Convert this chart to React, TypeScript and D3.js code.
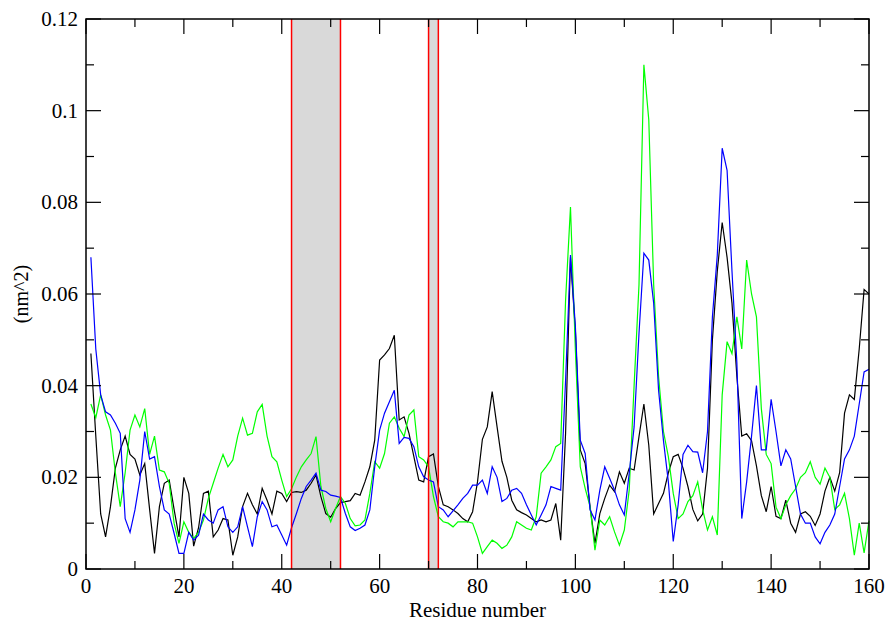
import React from "react";
import * as d3 from "d3";

const residues: number[] = Array.from({ length: 160 }, (_, i) => i + 1);

const blackSeries: number[] = [
  0.047, 0.029, 0.012, 0.007, 0.0136, 0.022, 0.026, 0.029, 0.025, 0.024,
  0.0205, 0.023, 0.013, 0.0034, 0.0136, 0.0187, 0.0194, 0.013, 0.007, 0.02,
  0.0165, 0.005, 0.009, 0.0165, 0.017, 0.007, 0.0085, 0.011, 0.0107, 0.003,
  0.007, 0.0136, 0.0165, 0.014, 0.012, 0.0176, 0.015, 0.012, 0.017, 0.0165,
  0.0147, 0.0167, 0.0169, 0.0167, 0.0172, 0.0187, 0.0205, 0.0158, 0.0121, 0.0113,
  0.0132, 0.0145, 0.0147, 0.0149, 0.0165, 0.0161, 0.019, 0.0223, 0.0281, 0.0456,
  0.0467, 0.0481, 0.051, 0.0325, 0.0332, 0.0296, 0.0245, 0.0194, 0.019, 0.0245,
  0.0251, 0.018, 0.014, 0.0136, 0.0129, 0.0121, 0.011, 0.0103, 0.0125, 0.019,
  0.0283, 0.031, 0.0387, 0.031, 0.0235, 0.02, 0.015, 0.0129, 0.0123, 0.0118,
  0.011, 0.0103, 0.0107, 0.0103, 0.0107, 0.0143, 0.0063, 0.0296, 0.068, 0.052,
  0.026, 0.023, 0.0136, 0.0056, 0.0121, 0.0154, 0.0183, 0.0169, 0.0212, 0.0187,
  0.022, 0.0216, 0.0289, 0.036, 0.027, 0.012, 0.0143, 0.0165, 0.021, 0.0245,
  0.025, 0.022, 0.018, 0.013, 0.0105, 0.012, 0.022, 0.05, 0.065, 0.0756,
  0.068, 0.058, 0.042, 0.029, 0.0295, 0.028, 0.0225, 0.016, 0.0125, 0.018,
  0.0115, 0.011, 0.015, 0.01, 0.008, 0.012, 0.0125, 0.0115, 0.0095, 0.012,
  0.017, 0.02, 0.017, 0.021, 0.034, 0.038, 0.037, 0.048, 0.061, 0.06,
];

const blueSeries: number[] = [
  0.068, 0.048, 0.038, 0.0343, 0.0336, 0.0318, 0.0296, 0.011, 0.008, 0.0129,
  0.0194, 0.03, 0.024, 0.0245, 0.018, 0.0129, 0.012, 0.0078, 0.0034, 0.0034,
  0.008, 0.0063, 0.0074, 0.012, 0.0107, 0.01, 0.0129, 0.0136, 0.0092, 0.008,
  0.0092, 0.0136, 0.0092, 0.0049, 0.0114, 0.0147, 0.0129, 0.0092, 0.0096, 0.0074,
  0.0052, 0.009, 0.0121, 0.0154, 0.018, 0.0194, 0.0209, 0.0172, 0.0169, 0.0161,
  0.0159, 0.0156, 0.0121, 0.0092, 0.0084, 0.0089, 0.0096, 0.0129, 0.0223, 0.0303,
  0.034, 0.0365, 0.039, 0.0274, 0.0287, 0.0285, 0.0267, 0.0223, 0.0201, 0.0194,
  0.019, 0.0136, 0.0129, 0.0114, 0.0127, 0.014, 0.0154, 0.0165, 0.0183, 0.0183,
  0.0194, 0.0165, 0.0223, 0.02, 0.0147, 0.0154, 0.0172, 0.0176, 0.0165, 0.014,
  0.0118, 0.0096, 0.0118, 0.014, 0.018, 0.0176, 0.0172, 0.0412, 0.0685, 0.0529,
  0.0281, 0.0252, 0.0129, 0.0107, 0.0172, 0.0223, 0.0198, 0.0172, 0.014, 0.0118,
  0.0209, 0.031, 0.0514, 0.0689, 0.0674, 0.058, 0.039, 0.028, 0.019, 0.006,
  0.014, 0.025, 0.027, 0.0256, 0.0255, 0.021, 0.03, 0.055, 0.0685, 0.0918,
  0.087, 0.065, 0.045, 0.011, 0.019, 0.029, 0.04, 0.026, 0.026, 0.037,
  0.03, 0.0225, 0.026, 0.024, 0.018, 0.012, 0.01, 0.01, 0.007, 0.0055,
  0.008, 0.0096, 0.012, 0.018, 0.024, 0.026, 0.029, 0.036, 0.043, 0.0436,
];

const greenSeries: number[] = [
  0.036, 0.033, 0.038, 0.0336, 0.0303, 0.021, 0.0136, 0.021, 0.0303, 0.0336,
  0.031, 0.035, 0.025, 0.029, 0.0216, 0.0212, 0.0187, 0.01, 0.0056, 0.0103,
  0.008, 0.0067, 0.008, 0.0107, 0.0154, 0.0187, 0.022, 0.025, 0.0223, 0.0238,
  0.029, 0.0329, 0.0292, 0.0296, 0.0343, 0.0359, 0.029, 0.0245, 0.0234, 0.0194,
  0.0158, 0.0175, 0.0201, 0.0223, 0.0238, 0.0252, 0.0289, 0.018, 0.0132, 0.0103,
  0.0132, 0.0158, 0.0143, 0.011, 0.0094, 0.0096, 0.0107, 0.0165, 0.0234, 0.022,
  0.0252, 0.0318, 0.0332, 0.0307, 0.0289, 0.0336, 0.0347, 0.0245, 0.0238, 0.0223,
  0.0158, 0.0114, 0.0103, 0.01, 0.0092, 0.0103, 0.0103, 0.0103, 0.01, 0.007,
  0.0034, 0.0049, 0.0063, 0.0056, 0.0045, 0.0052, 0.007, 0.0103, 0.0096, 0.0089,
  0.0085, 0.0114, 0.0209, 0.0223, 0.0238, 0.0267, 0.0274, 0.0587, 0.079, 0.0478,
  0.0223, 0.0176, 0.0136, 0.0041, 0.0107, 0.0096, 0.0114, 0.0081, 0.0052, 0.0085,
  0.0172, 0.04, 0.062, 0.11, 0.098, 0.062, 0.042, 0.03, 0.0245, 0.0165,
  0.011, 0.012, 0.0147, 0.016, 0.019, 0.013, 0.0085, 0.0114, 0.0074, 0.038,
  0.0496, 0.047, 0.055, 0.048, 0.0674, 0.06, 0.055, 0.035, 0.025, 0.023,
  0.0135, 0.011, 0.014, 0.016, 0.0175, 0.02, 0.021, 0.0234, 0.02, 0.0185,
  0.022, 0.02, 0.013, 0.014, 0.0165, 0.011, 0.003, 0.01, 0.0035, 0.0105,
];

const shadedRegions: [number, number][] = [
  [42, 52],
  [70, 72],
];

const xTickValues: number[] = [0, 20, 40, 60, 80, 100, 120, 140, 160];
const xMinorTicks: number[] = [10, 30, 50, 70, 90, 110, 130, 150];
const yTickValues: number[] = [0, 0.02, 0.04, 0.06, 0.08, 0.1, 0.12];
const yTickLabels: string[] = ["0", "0.02", "0.04", "0.06", "0.08", "0.1", "0.12"];
const yMinorTicks: number[] = [0.01, 0.03, 0.05, 0.07, 0.09, 0.11];

const xLabel = "Residue number";
const yLabel = "(nm^2)";

export default function App() {
  const W = 891;
  const H = 623;
  const left = 86;
  const right = 869;
  const top = 19;
  const bottom = 569;

  const x = d3.scaleLinear().domain([0, 160]).range([left, right]);
  const y = d3.scaleLinear().domain([0, 0.12]).range([bottom, top]);

  const line = d3
    .line<number>()
    .x((_, i) => x(residues[i]))
    .y((d) => y(d));

  const major = 15;
  const minor = 8;
  const fam = "Liberation Serif";

  return (
    <svg width={W} height={H} style={{ position: "absolute", left: 0, top: 0 }}>
      <rect x={0} y={0} width={W} height={H} fill="#fff" />
      {shadedRegions.map(([a, b], i) => (
        <rect
          key={"s" + i}
          x={x(a)}
          y={top}
          width={x(b) - x(a)}
          height={bottom - top}
          fill="#d9d9d9"
        />
      ))}
      <path d={line(blackSeries) || ""} fill="none" stroke="#000" strokeWidth={1.2} />
      <path d={line(greenSeries) || ""} fill="none" stroke="#00ff00" strokeWidth={1.2} />
      <path d={line(blueSeries) || ""} fill="none" stroke="#0000ff" strokeWidth={1.2} />
      {shadedRegions.map(([a, b], i) => (
        <g key={"r" + i}>
          <line x1={x(a)} x2={x(a)} y1={top} y2={bottom} stroke="#ff0000" strokeWidth={1.5} />
          <line x1={x(b)} x2={x(b)} y1={top} y2={bottom} stroke="#ff0000" strokeWidth={1.5} />
        </g>
      ))}
      <rect
        x={left}
        y={top}
        width={right - left}
        height={bottom - top}
        fill="none"
        stroke="#000"
        strokeWidth={1.5}
      />
      {xTickValues.map((t) => (
        <g key={"xt" + t}>
          <line x1={x(t)} x2={x(t)} y1={bottom} y2={bottom - major} stroke="#000" strokeWidth={1.2} />
          <line x1={x(t)} x2={x(t)} y1={top} y2={top + major} stroke="#000" strokeWidth={1.2} />
          <text x={x(t)} y={bottom + 24} textAnchor="middle" fontFamily={fam} fontSize={21} fill="#000">
            {String(t)}
          </text>
        </g>
      ))}
      {xMinorTicks.map((t) => (
        <g key={"xm" + t}>
          <line x1={x(t)} x2={x(t)} y1={bottom} y2={bottom - minor} stroke="#000" strokeWidth={1.2} />
          <line x1={x(t)} x2={x(t)} y1={top} y2={top + minor} stroke="#000" strokeWidth={1.2} />
        </g>
      ))}
      {yTickValues.map((t, i) => (
        <g key={"yt" + t}>
          <line x1={left} x2={left + major} y1={y(t)} y2={y(t)} stroke="#000" strokeWidth={1.2} />
          <line x1={right} x2={right - major} y1={y(t)} y2={y(t)} stroke="#000" strokeWidth={1.2} />
          <text x={left - 8} y={y(t) + 7} textAnchor="end" fontFamily={fam} fontSize={21} fill="#000">
            {yTickLabels[i]}
          </text>
        </g>
      ))}
      {yMinorTicks.map((t) => (
        <g key={"ym" + t}>
          <line x1={left} x2={left + minor} y1={y(t)} y2={y(t)} stroke="#000" strokeWidth={1.2} />
          <line x1={right} x2={right - minor} y1={y(t)} y2={y(t)} stroke="#000" strokeWidth={1.2} />
        </g>
      ))}
      <text x={(left + right) / 2} y={bottom + 48} textAnchor="middle" fontFamily={fam} fontSize={21} fill="#000">
        {xLabel}
      </text>
      <text
        transform={`translate(28, ${(top + bottom) / 2}) rotate(-90)`}
        textAnchor="middle"
        fontFamily={fam}
        fontSize={20}
        fill="#000"
      >
        {yLabel}
      </text>
    </svg>
  );
}
